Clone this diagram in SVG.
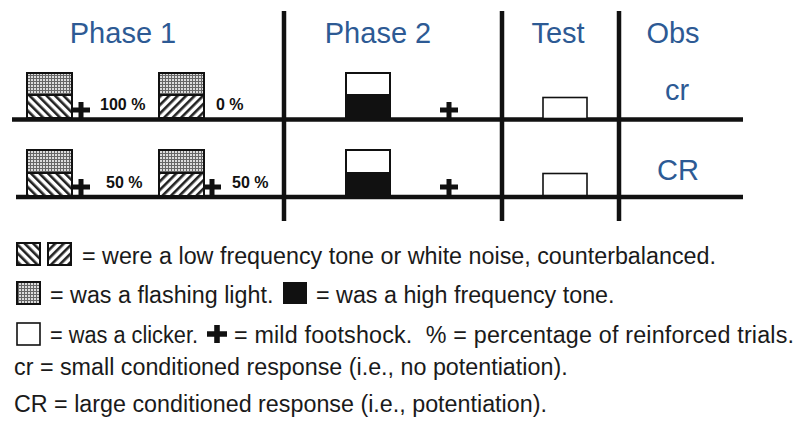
<svg xmlns="http://www.w3.org/2000/svg" width="800" height="428" viewBox="0 0 800 428">
<style>
.hdr{font-family:"Liberation Sans",Arial,sans-serif;font-size:29px;fill:#2d5a94;text-anchor:middle}
.pct{font-family:"Liberation Sans",Arial,sans-serif;font-size:16px;font-weight:bold;fill:#111}
.leg{font-family:"Liberation Sans",Arial,sans-serif;font-size:23.3px;fill:#1a1a1a}
.rule{stroke:#111;stroke-width:4.5;fill:none}
.box{stroke:#111;stroke-width:2;}
.thin{stroke:#111;stroke-width:1.6;fill:#fff}
</style>
<defs>
<pattern id="grid" width="3" height="3" patternUnits="userSpaceOnUse">
<rect width="3" height="3" fill="#dcdcdc"/>
<path d="M0,0.5H3M0.5,0V3" stroke="#666" stroke-width="1"/>
</pattern>
<pattern id="bs" width="6" height="6" patternUnits="userSpaceOnUse" patternTransform="rotate(-45)">
<rect width="6" height="6" fill="#fff"/>
<rect x="0" y="0" width="2.6" height="6" fill="#222"/>
</pattern>
<pattern id="fs" width="6" height="6" patternUnits="userSpaceOnUse" patternTransform="rotate(45)">
<rect width="6" height="6" fill="#fff"/>
<rect x="0" y="0" width="2.6" height="6" fill="#222"/>
</pattern>
<symbol id="plus" viewBox="-9 -8 18 16" overflow="visible">
<path d="M-9,-2.5H9V2.5H-9Z M-2.5,-8H2.5V8H-2.5Z" fill="#111"/>
</symbol>
</defs>

<g id="headers">
<text class="hdr" x="123" y="43">Phase 1</text>
<text class="hdr" x="378" y="43">Phase 2</text>
<text class="hdr" x="558" y="43">Test</text>
<text class="hdr" x="673" y="43">Obs</text>
</g>

<g id="connectors">
<line class="rule" x1="12" y1="119.5" x2="743" y2="119.5"/>
<line class="rule" x1="16" y1="197" x2="743" y2="197"/>
<line class="rule" x1="284" y1="11" x2="284" y2="221"/>
<line class="rule" x1="502" y1="11" x2="502" y2="221"/>
<line class="rule" x1="619" y1="11" x2="619" y2="221"/>
</g>

<g id="phase1-row1">
<rect class="box" x="27" y="73" width="45" height="22" fill="url(#grid)"/>
<rect class="box" x="27" y="95" width="45" height="23" fill="url(#bs)"/>
<use href="#plus" x="72" y="102" width="18" height="16"/>
<text class="pct" x="100" y="110">100 %</text>
<rect class="box" x="159" y="73" width="45" height="22" fill="url(#grid)"/>
<rect class="box" x="159" y="95" width="45" height="23" fill="url(#fs)"/>
<text class="pct" x="216" y="110">0 %</text>
</g>

<g id="phase1-row2">
<rect class="box" x="27" y="150" width="45" height="23" fill="url(#grid)"/>
<rect class="box" x="27" y="173" width="45" height="23" fill="url(#bs)"/>
<use href="#plus" x="72" y="179" width="18" height="16"/>
<text class="pct" x="106" y="188">50 %</text>
<rect class="box" x="159" y="150" width="45" height="23" fill="url(#grid)"/>
<rect class="box" x="159" y="173" width="45" height="23" fill="url(#fs)"/>
<use href="#plus" x="203" y="179" width="18" height="16"/>
<text class="pct" x="232" y="188">50 %</text>
</g>

<g id="phase2-row1">
<rect class="box" x="346" y="73" width="44" height="45" fill="#fff"/>
<rect x="346" y="94" width="44" height="24" fill="#111"/>
<use href="#plus" x="440" y="102" width="18" height="16"/>
</g>

<g id="phase2-row2">
<rect class="box" x="346" y="150" width="44" height="46" fill="#fff"/>
<rect x="346" y="172" width="44" height="24" fill="#111"/>
<use href="#plus" x="440" y="179" width="18" height="16"/>
</g>

<g id="test-row1">
<rect class="thin" x="543" y="97.5" width="44" height="21"/>
</g>
<g id="test-row2">
<rect class="thin" x="543" y="173.5" width="44" height="22"/>
</g>

<g id="obs">
<text class="hdr" x="677" y="100">cr</text>
<text class="hdr" x="678" y="180">CR</text>
</g>

<g id="legend">
<rect class="box" x="17" y="243" width="23" height="22" fill="url(#bs)"/>
<rect class="box" x="48" y="243" width="23" height="22" fill="url(#fs)"/>
<text class="leg" x="82" y="264">= were a low frequency tone or white noise, counterbalanced.</text>
<rect class="box" x="17" y="282" width="23" height="22" fill="url(#grid)"/>
<text class="leg" x="50" y="303">= was a flashing light.</text>
<rect x="283" y="282" width="24" height="22" fill="#111"/>
<text class="leg" x="316" y="303">= was a high frequency tone.</text>
<rect class="thin" x="17" y="323" width="23" height="22"/>
<text class="leg" x="50" y="343" textLength="148" lengthAdjust="spacingAndGlyphs">= was a clicker.</text>
<use href="#plus" x="207" y="325" width="20" height="18"/>
<text class="leg" x="234" y="343" xml:space="preserve" textLength="560" lengthAdjust="spacing">= mild footshock.  % = percentage of reinforced trials.</text>
<text class="leg" x="14" y="375">cr = small conditioned response (i.e., no potentiation).</text>
<text class="leg" x="14" y="412">CR = large conditioned response (i.e., potentiation).</text>
</g>
</svg>
